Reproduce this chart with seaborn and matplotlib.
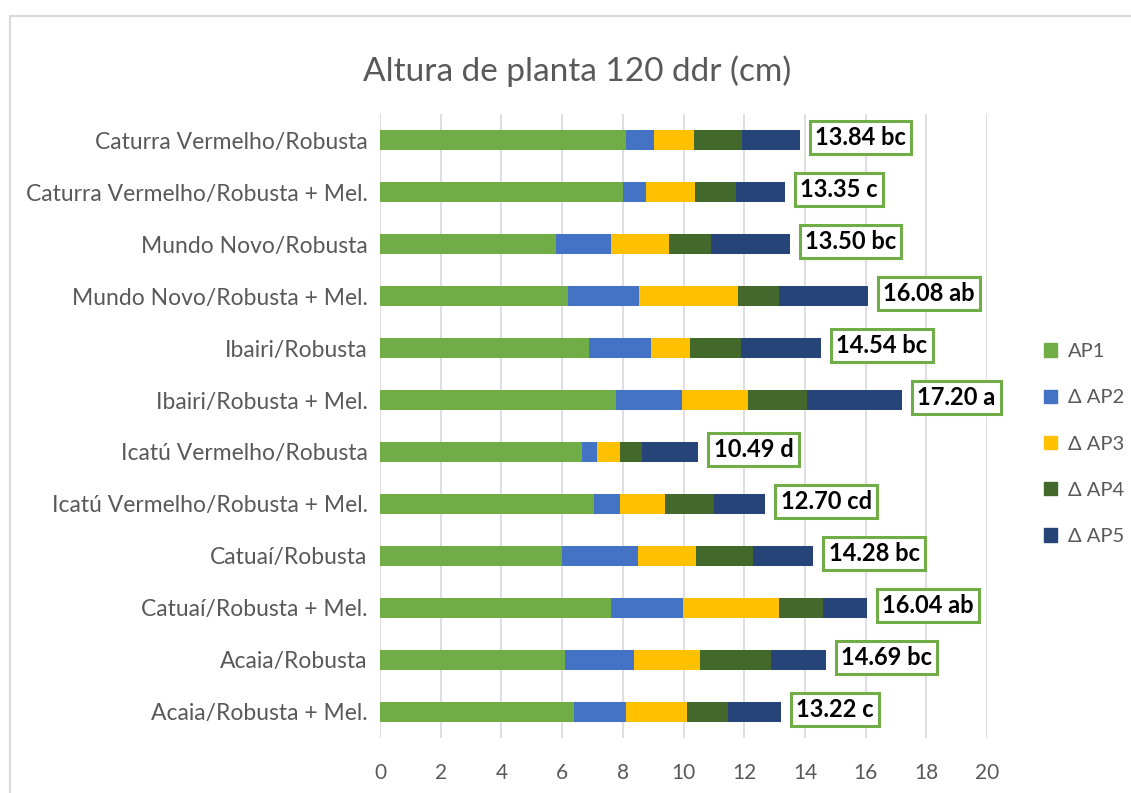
import numpy as np
import pandas as pd
import seaborn as sns
import matplotlib.pyplot as plt
from matplotlib.patches import Patch, Rectangle

# Datos: altura de planta 120 ddr (cm)
tratamientos = [
    "Caturra Vermelho/Robusta",
    "Caturra Vermelho/Robusta + Mel.",
    "Mundo Novo/Robusta",
    "Mundo Novo/Robusta + Mel.",
    "Ibairi/Robusta",
    "Ibairi/Robusta + Mel.",
    "Icatú Vermelho/Robusta",
    "Icatú Vermelho/Robusta + Mel.",
    "Catuaí/Robusta",
    "Catuaí/Robusta + Mel.",
    "Acaia/Robusta",
    "Acaia/Robusta + Mel.",
]
ap1 = [8.12, 8.00, 5.81, 6.19, 6.89, 7.79, 6.67, 7.06, 5.98, 7.61, 6.11, 6.38]
d_ap2 = [0.92, 0.77, 1.80, 2.34, 2.05, 2.16, 0.48, 0.85, 2.51, 2.38, 2.25, 1.72]
d_ap3 = [1.29, 1.62, 1.91, 3.26, 1.28, 2.17, 0.77, 1.48, 1.92, 3.14, 2.18, 2.01]
d_ap4 = [1.60, 1.33, 1.39, 1.35, 1.67, 1.94, 0.70, 1.61, 1.87, 1.45, 2.33, 1.34]
d_ap5 = [1.91, 1.63, 2.59, 2.94, 2.65, 3.14, 1.87, 1.70, 2.00, 1.46, 1.82, 1.77]
totales = [13.84, 13.35, 13.50, 16.08, 14.54, 17.20, 10.49, 12.70, 14.28, 16.04, 14.69, 13.22]
letras = ["bc", "c", "bc", "ab", "bc", "a", "d", "cd", "bc", "ab", "bc", "c"]

series = ["AP1", "Δ AP2", "Δ AP3", "Δ AP4", "Δ AP5"]
colores = ["#70AD47", "#4472C4", "#FFC000", "#43682B", "#264478"]

df = pd.DataFrame({"Tratamiento": tratamientos, "AP1": ap1, "Δ AP2": d_ap2,
                   "Δ AP3": d_ap3, "Δ AP4": d_ap4, "Δ AP5": d_ap5})
acum = df[series].cumsum(axis=1)

sns.set_style("white")
plt.rcParams["font.family"] = ["Lato", "DejaVu Sans"]

fig = plt.figure(figsize=(11.31, 7.93), dpi=100)
ax = fig.add_axes([0.336, 0.0694, 0.5367, 0.7868])

# barras apiladas: se dibuja del acumulado mayor al menor
for s, c in reversed(list(zip(series, colores))):
    sns.barplot(x=acum[s], y=df["Tratamiento"], color=c, orient="h",
                width=0.4, ax=ax, saturation=1, edgecolor="none")

for i, (t, l) in enumerate(zip(totales, letras)):
    ax.text(t + 0.5, i - 0.05, f"{t:.2f} {l}", ha="left", va="center",
            fontsize=17, fontweight="bold", color="black",
            bbox=dict(boxstyle="square,pad=0.22", fc="white", ec="#70AD47", lw=2.2))

ax.set_xlim(0, 20)
ax.set_xticks(np.arange(0, 21, 2))
ax.grid(axis="x", color="#D9D9D9", lw=1.2)
ax.set_axisbelow(True)
for sp in ax.spines.values():
    sp.set_visible(False)
ax.set_xlabel("")
ax.set_ylabel("")
ax.tick_params(axis="y", length=0, labelsize=16.5, colors="#595959", pad=9)
ax.tick_params(axis="x", length=0, labelsize=15, colors="#595959", pad=18)

handles = [Patch(color=c, label=s) for s, c in zip(series, colores)]
fig.legend(handles=handles, loc="center left", bbox_to_anchor=(0.907, 0.44),
           frameon=False, fontsize=14.5, labelcolor="#595959", handlelength=0.65,
           handleheight=0.65, handletextpad=0.55, labelspacing=1.45)

fig.suptitle("Altura de planta 120 ddr (cm)", x=0.51, y=0.93, fontsize=24,
             color="#595959")

fig.patches.append(Rectangle((10 / 1131, -0.1), 1.2, 1.1 - 16 / 793,
                             transform=fig.transFigure, fill=False,
                             ec="#D9D9D9", lw=1.5, zorder=-1))

fig.savefig("out.png", dpi=100)
